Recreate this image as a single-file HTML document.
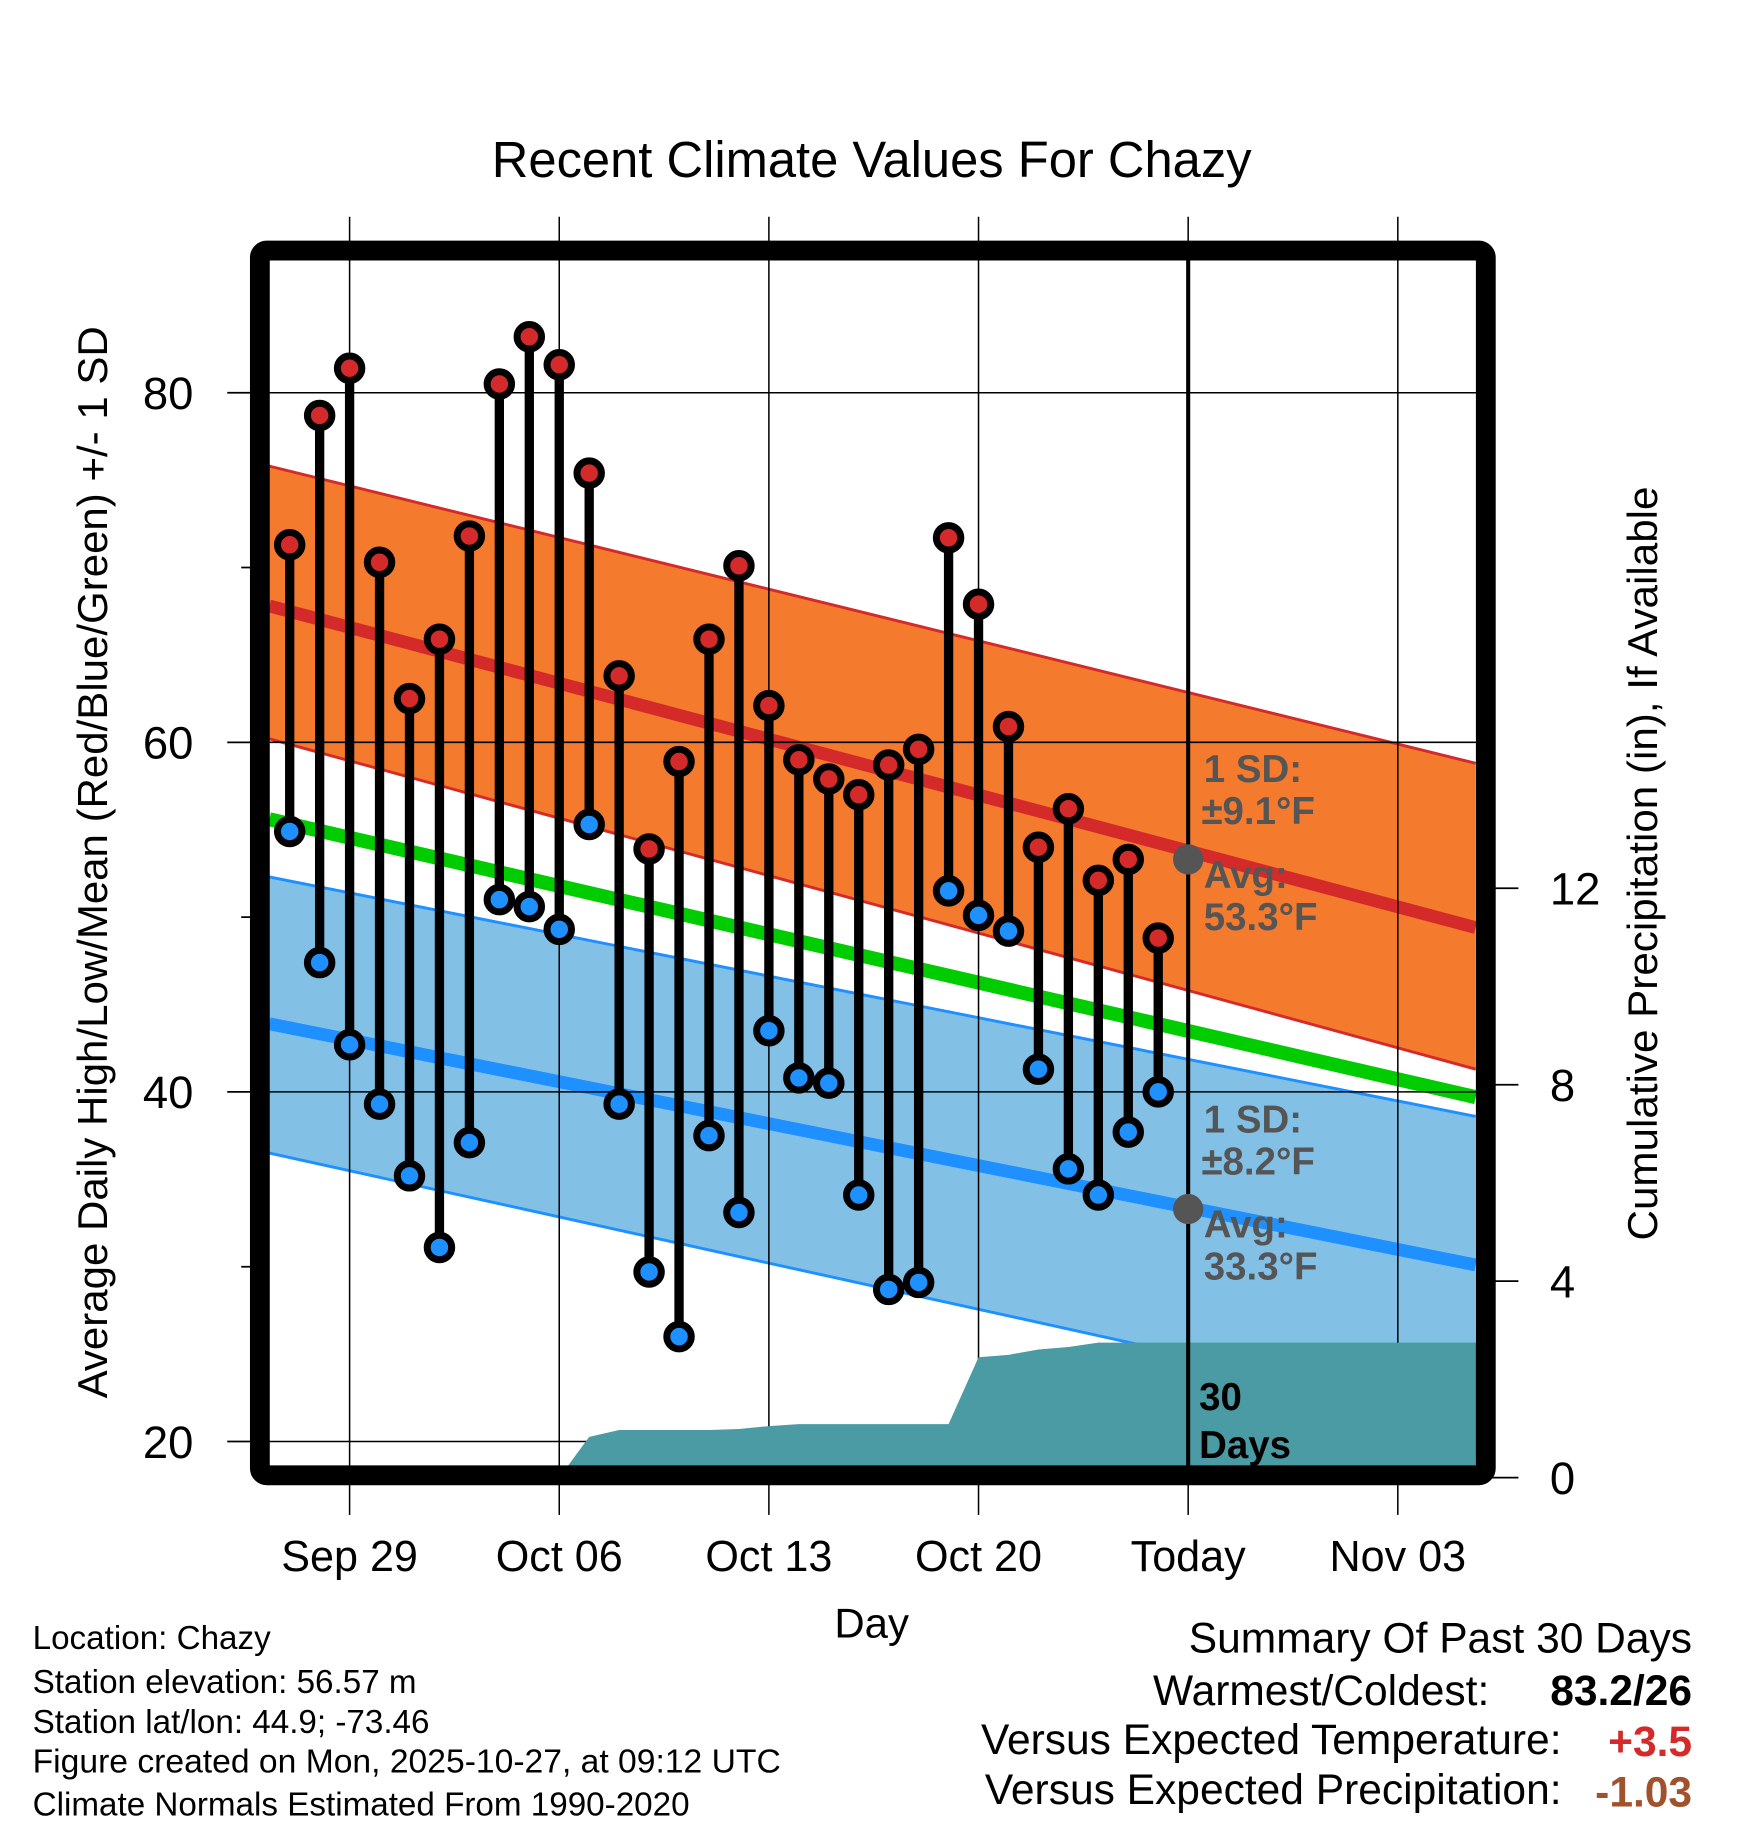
<!DOCTYPE html>
<html><head><meta charset="utf-8"><style>
html,body{margin:0;padding:0;background:#fff;}
svg{display:block;font-family:"Liberation Sans",Arial,sans-serif;}
</style></head><body>
<svg id="chart" width="1748" height="1828" viewBox="0 0 1500 1568.65" xmlns="http://www.w3.org/2000/svg">
<defs><clipPath id="plotclip"><rect x="231" y="223" width="1036" height="1035"/></clipPath></defs>
<text x="748" y="152" font-size="43.5" text-anchor="middle" textLength="652" lengthAdjust="spacingAndGlyphs">Recent Climate Values For Chazy</text>
<g id="plot" clip-path="url(#plotclip)"></g>
<g id="axes"></g>
<g id="marks"></g>
<rect x="223" y="215" width="1052" height="1051" rx="6" fill="none" stroke="#000" stroke-width="17"/>
<text transform="translate(92,740) rotate(-90)" font-size="36" text-anchor="middle" textLength="920" lengthAdjust="spacingAndGlyphs">Average Daily High/Low/Mean (Red/Blue/Green) +/- 1 SD</text>
<text transform="translate(1422,741) rotate(-90)" font-size="36" text-anchor="middle" textLength="647" lengthAdjust="spacingAndGlyphs">Cumulative Precipitation (in), If Available</text>
<text x="748" y="1405" font-size="36" text-anchor="middle">Day</text>
<g font-size="28.5">
<text x="28" y="1415">Location: Chazy</text>
<text x="28" y="1453">Station elevation: 56.57 m</text>
<text x="28" y="1487">Station lat/lon: 44.9; -73.46</text>
<text x="28" y="1521" textLength="642" lengthAdjust="spacingAndGlyphs">Figure created on Mon, 2025-10-27, at 09:12 UTC</text>
<text x="28" y="1558">Climate Normals Estimated From 1990-2020</text>
</g>
<g font-size="36.5">
<text x="1452" y="1418" text-anchor="end">Summary Of Past 30 Days</text>
<text x="1278" y="1463" text-anchor="end">Warmest/Coldest:</text>
<text x="1452" y="1463" text-anchor="end" font-weight="bold">83.2/26</text>
<text x="1340" y="1505" text-anchor="end">Versus Expected Temperature:</text>
<text x="1452" y="1507" text-anchor="end" font-weight="bold" fill="#d42a2a">+3.5</text>
<text x="1340" y="1548" text-anchor="end">Versus Expected Precipitation:</text>
<text x="1452" y="1550" text-anchor="end" font-weight="bold" fill="#a0522d">-1.03</text>
</g>
</svg>
<script>
// observed data (day index 0 = Sep 27)
const highs = [71.3,78.7,81.4,70.3,62.5,65.9,71.8,80.5,83.2,81.6,75.4,63.8,53.9,58.9,65.9,70.1,62.1,59.0,57.9,57.0,58.7,59.6,71.7,67.9,60.9,54.0,56.2,52.1,53.3,48.8];
const lows  = [54.9,47.4,42.7,39.3,35.2,31.1,37.1,51.0,50.6,49.3,55.3,39.3,29.7,26.0,37.5,33.1,43.5,40.8,40.5,34.1,28.7,29.1,51.5,50.1,49.2,41.3,35.6,34.1,37.7,40.0];
const precipCum = [0,0,0,0,0,0,0,0,0,0,0.83,0.97,0.97,0.97,0.97,0.99,1.05,1.09,1.09,1.09,1.09,1.09,1.09,2.45,2.5,2.61,2.66,2.75,2.75,2.75];
// normals at plot edges (day -0.68 and day 39.6)
const normDays   = [-0.68, 39.6];
const highMean   = [67.8, 49.4];
const highUpper  = [75.8, 58.8];
const highLower  = [60.2, 41.3];
const lowMean    = [43.9, 30.1];
const lowUpper   = [52.3, 38.6];
const lowLower   = [36.5, 21.3];
const avgMean    = [55.6, 39.7];
const yTicks = [20,40,60,80];
const yMinor = [30,50,70];
const precipTicks = [0,4,8,12];
const xTickDays = [2,9,16,23,30,37];
const xTickLabels = ["Sep 29","Oct 06","Oct 13","Oct 20","Today","Nov 03"];
const todayDay = 30;

const X = d => 248.6 + 25.7*d;
const Y = v => 1537 - 15*v;
const YP = p => 1268 - 42.15*p;
const NS='http://www.w3.org/2000/svg';
function mk(parent, tag, attrs){const e=document.createElementNS(NS,tag);for(const k in attrs)e.setAttribute(k,attrs[k]);parent.appendChild(e);return e;}
const plot=document.getElementById('plot'), axes=document.getElementById('axes'), marks=document.getElementById('marks');

function band(up, lo, fill, edge, name){
  const pts=[[X(normDays[0]),Y(up[0])],[X(normDays[1]),Y(up[1])],[X(normDays[1]),Y(lo[1])],[X(normDays[0]),Y(lo[0])]];
  const p=mk(plot,'polygon',{points:pts.map(q=>q.join(',')).join(' '),fill:fill});
  
  
  [up,lo].forEach(a=>{mk(plot,'line',{x1:X(normDays[0]),y1:Y(a[0]),x2:X(normDays[1]),y2:Y(a[1]),stroke:edge,'stroke-width':2.5});});
}
band(highUpper,highLower,'#f47a2e','#d42a2a','high-sd-band');
band(lowUpper,lowLower,'#82c0e6','#1e90ff','low-sd-band');
function meanLine(a,color,w,name){
  const l=mk(plot,'line',{x1:X(normDays[0]),y1:Y(a[0]),x2:X(normDays[1]),y2:Y(a[1]),stroke:color,'stroke-width':w});
  
  
}
meanLine(avgMean,'#00cc00',12,'mean-normal-line');
meanLine(highMean,'#d42a2a',11,'high-normal-line');
meanLine(lowMean,'#1e90ff',11,'low-normal-line');

// gridlines
yTicks.forEach(v=>{mk(plot,'line',{x1:231,y1:Y(v),x2:1267,y2:Y(v),stroke:'#000','stroke-width':1.3});});
xTickDays.forEach(d=>{mk(plot,'line',{x1:X(d),y1:223,x2:X(d),y2:1258,stroke:'#000','stroke-width':1.3});});

// precip area
let pp=[[X(0),YP(0)]];
precipCum.forEach((p,i)=>pp.push([X(i),YP(p)]));
pp.push([1270,YP(precipCum[precipCum.length-1])],[1270,YP(0)]);
const area=mk(plot,'polygon',{points:pp.map(q=>q.join(',')).join(' '),fill:'#4a9ba3'});



// today line
const tl=mk(plot,'line',{x1:X(todayDay),y1:223,x2:X(todayDay),y2:1258,stroke:'#000','stroke-width':3.5});



// axis ticks outside
yTicks.forEach(v=>{
  mk(axes,'line',{x1:195,y1:Y(v),x2:231,y2:Y(v),stroke:'#000','stroke-width':1.5});
  const t=mk(axes,'text',{x:166,y:Y(v)+14,'font-size':39,'text-anchor':'end'});t.textContent=v;
  
  
});
yMinor.forEach(v=>{mk(axes,'line',{x1:207,y1:Y(v),x2:231,y2:Y(v),stroke:'#000','stroke-width':1.5});});
precipTicks.forEach(p=>{
  mk(axes,'line',{x1:1267,y1:YP(p),x2:1303,y2:YP(p),stroke:'#000','stroke-width':1.5});
  const t=mk(axes,'text',{x:1330,y:YP(p)+14,'font-size':39});t.textContent=p;
  
  
});
xTickDays.forEach((d,i)=>{
  mk(axes,'line',{x1:X(d),y1:186,x2:X(d),y2:223,stroke:'#000','stroke-width':1.3});
  mk(axes,'line',{x1:X(d),y1:1258,x2:X(d),y2:1300,stroke:'#000','stroke-width':1.3});
  const t=mk(axes,'text',{x:X(d),y:1348,'font-size':37,'text-anchor':'middle'});t.textContent=xTickLabels[i];
  
  
});

// stems & points
highs.forEach((h,i)=>{
  const s=mk(marks,'line',{x1:X(i),y1:Y(h),x2:X(i),y2:Y(lows[i]),stroke:'#000','stroke-width':8});
  
  
});
highs.forEach((h,i)=>{
  const c=mk(marks,'circle',{cx:X(i),cy:Y(h),r:10.5,fill:'#d42a2a',stroke:'#000','stroke-width':6});
  
  
  const c2=mk(marks,'circle',{cx:X(i),cy:Y(lows[i]),r:10.5,fill:'#1e90ff',stroke:'#000','stroke-width':6});
  
  
});
// today normal markers
const todayHigh = 53.3, todayLow = 33.3;
[todayHigh,todayLow].forEach(v=>{
  const c=mk(marks,'circle',{cx:X(todayDay),cy:Y(v),r:13,fill:'#555'});
  
  
});
function lab(txt,x,y,col,name){
  const t=mk(marks,'text',{x:x,y:y,'font-size':33,'font-weight':'bold',fill:col});t.textContent=txt;
  
  
}
lab('1 SD:',1033,671,'#555','high-sd-label');
lab('±9.1°F',1031,707,'#555','high-sd-value');
lab('Avg:',1033,762,'#555','high-avg-label');
lab('53.3°F',1033,798,'#555','high-avg-value');
lab('1 SD:',1033,972,'#555','low-sd-label');
lab('±8.2°F',1031,1008,'#555','low-sd-value');
lab('Avg:',1033,1062,'#555','low-avg-label');
lab('33.3°F',1033,1098,'#555','low-avg-value');
lab('30',1029,1210,'#000','days-label');
lab('Days',1029,1251,'#000','days-label-2');
</script>
</body></html>
